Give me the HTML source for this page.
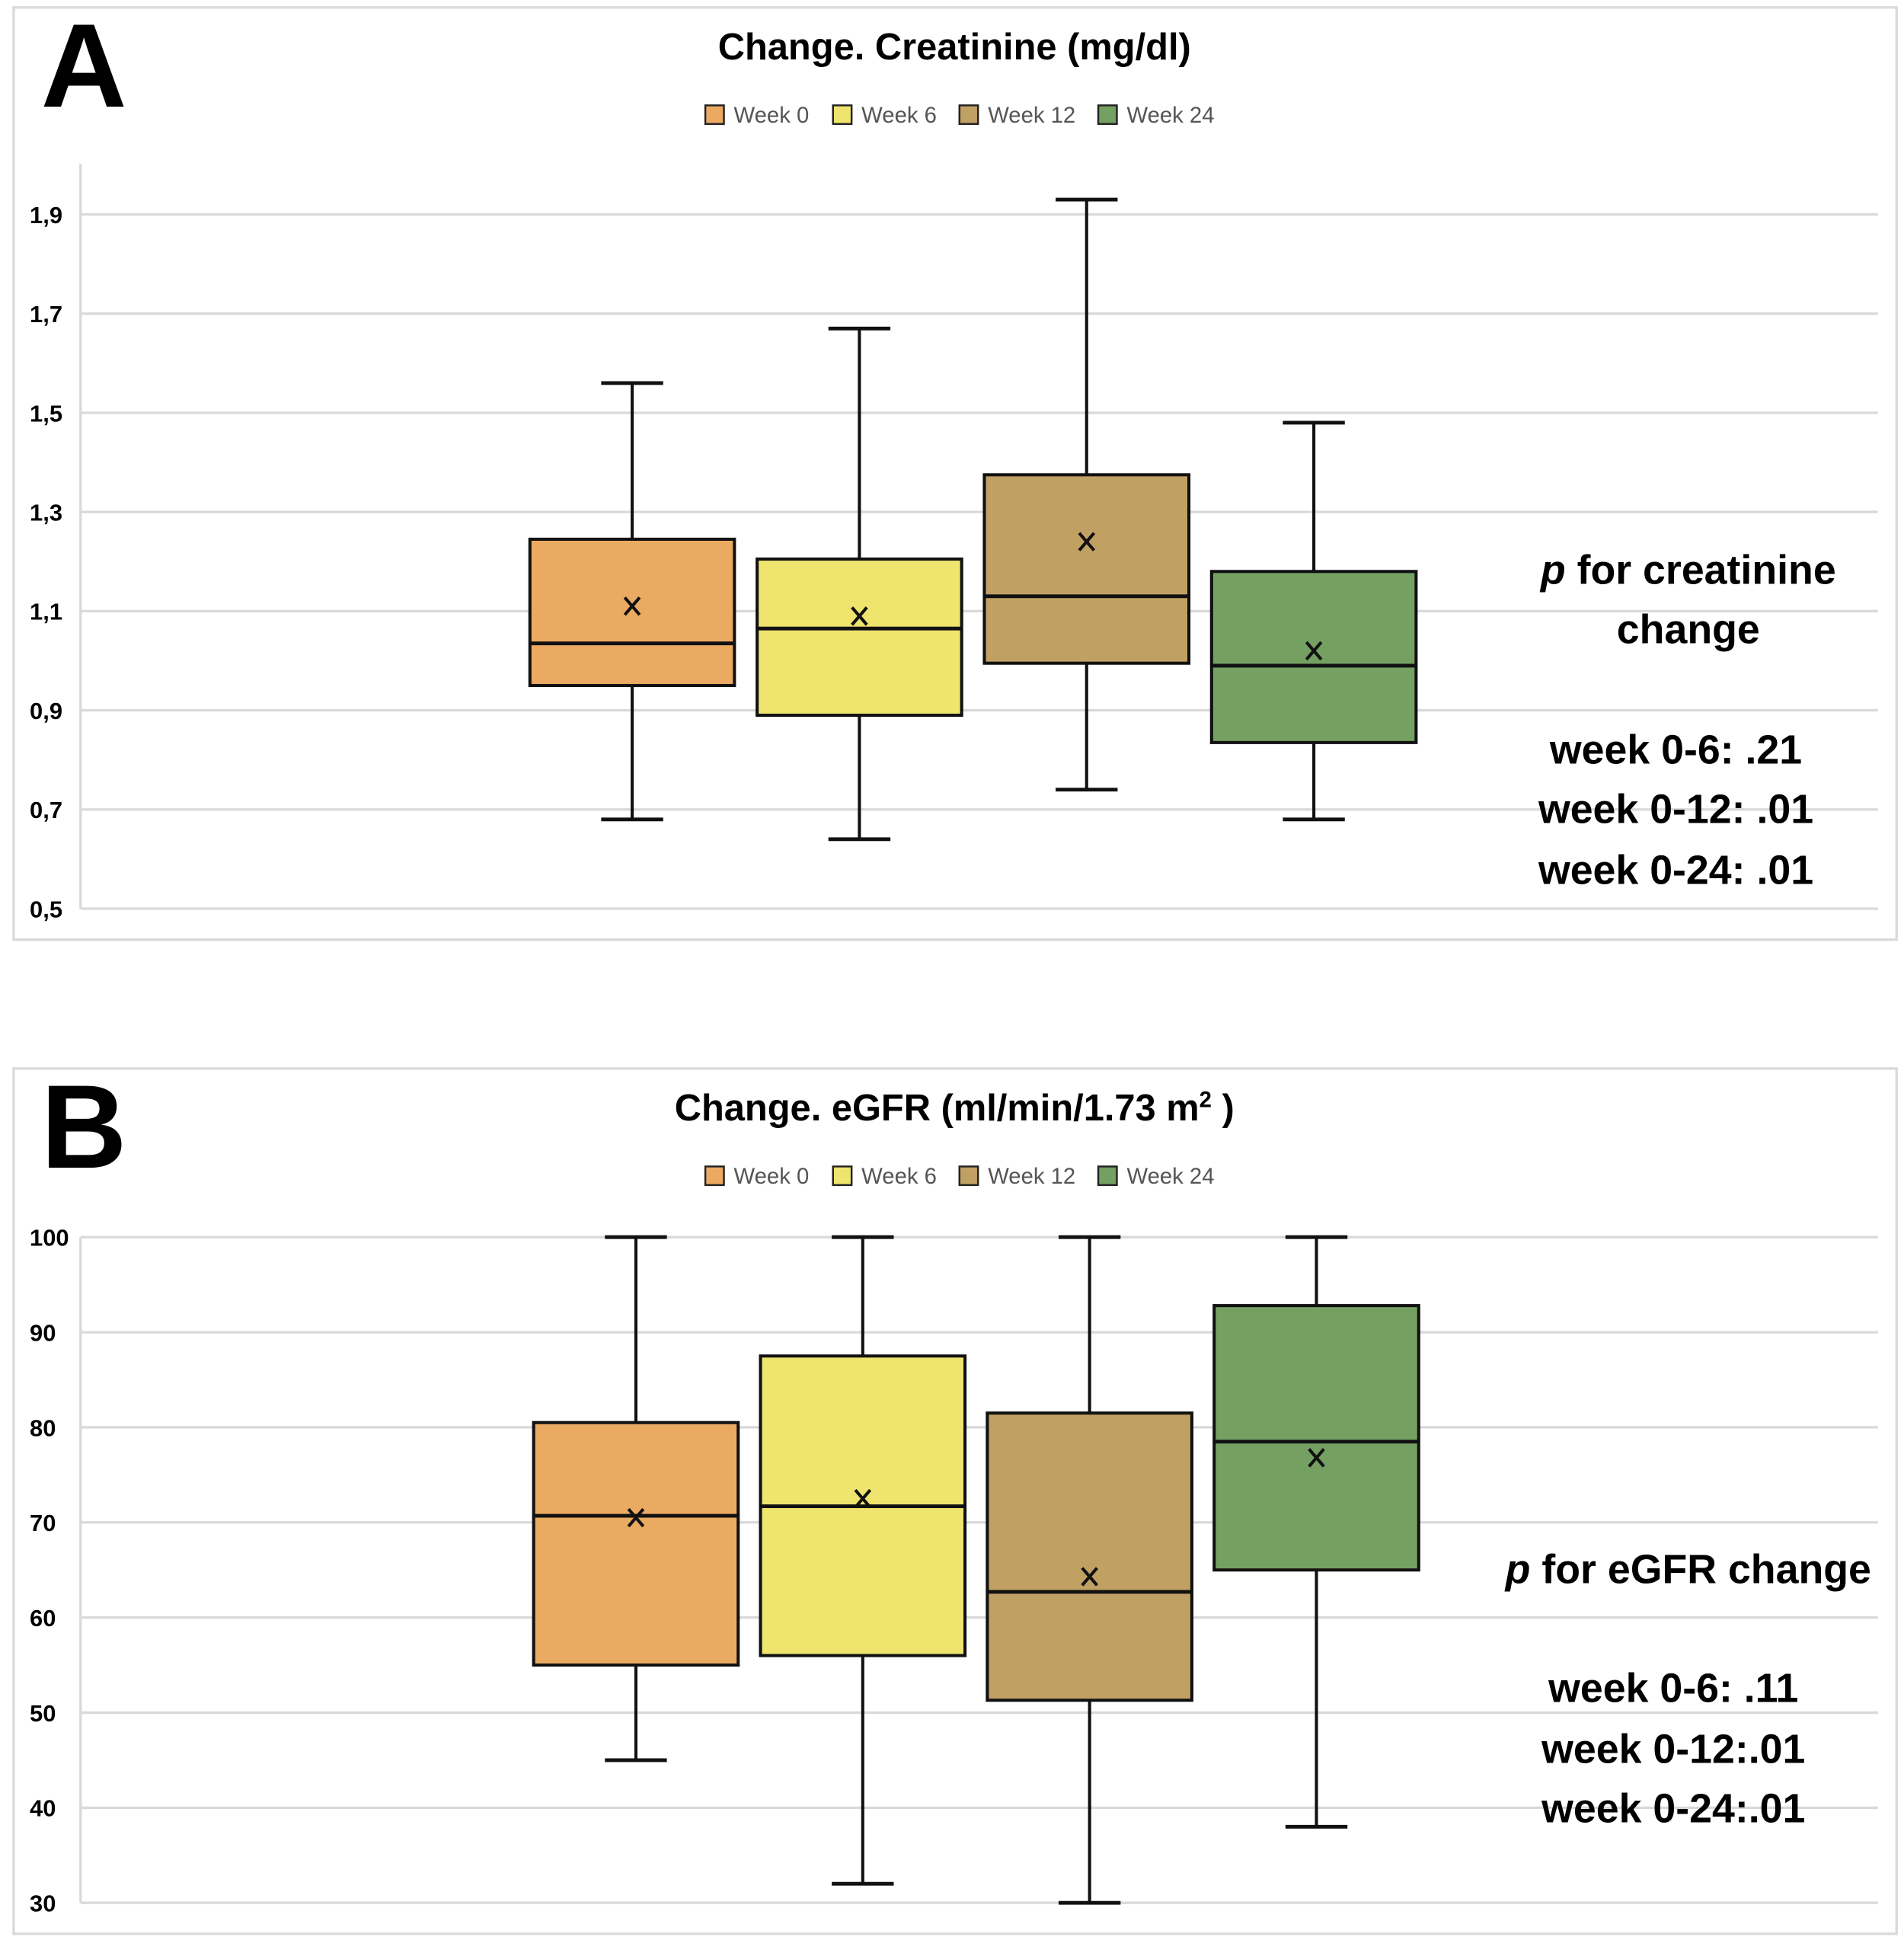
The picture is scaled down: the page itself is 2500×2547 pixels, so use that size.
<!DOCTYPE html>
<html><head><meta charset="utf-8"><style>
html,body{margin:0;padding:0;background:#fff}
svg{display:block}
text{font-family:"Liberation Sans",sans-serif}
</style></head><body>
<svg id="chart" width="2500" height="2547" viewBox="0 0 1536 1565" preserveAspectRatio="none" xmlns="http://www.w3.org/2000/svg">
<g id="pa"></g>
<g id="pb"></g>
</svg>
<script>
const categories = ["Week 0","Week 6","Week 12","Week 24"];
const colors = ["#EBAA62","#EEE46E","#C1A064","#74A062"];
const creatMin = [0.68,0.64,0.74,0.68];
const creatQ1 = [0.95,0.89,0.995,0.835];
const creatMed = [1.035,1.065,1.13,0.99];
const creatQ3 = [1.245,1.205,1.375,1.18];
const creatMax = [1.56,1.67,1.93,1.48];
const creatMean = [1.11,1.09,1.24,1.02];
const creatTicks = [0.5,0.7,0.9,1.1,1.3,1.5,1.7,1.9];
const creatTickLabels = ["0,5","0,7","0,9","1,1","1,3","1,5","1,7","1,9"];
const egfrMin = [45,32,30,38];
const egfrQ1 = [55,56,51.3,65];
const egfrMed = [70.7,71.7,62.7,78.5];
const egfrQ3 = [80.5,87.5,81.5,92.8];
const egfrMax = [100,100,100,100];
const egfrMean = [70.5,72.5,64.3,76.8];
const egfrTicks = [30,40,50,60,70,80,90,100];
const egfrTickLabels = ["30","40","50","60","70","80","90","100"];

const NS="http://www.w3.org/2000/svg";
function mk(parent,tag,attrs,txt){const e=document.createElementNS(NS,tag);for(const k in attrs)e.setAttribute(k,attrs[k]);if(txt!==undefined)e.textContent=txt;parent.appendChild(e);return e;}

function panel(g,cfg){
  const r=mk(g,'rect',{x:11,y:cfg.top,width:1519,height:cfg.h,fill:'#fff',stroke:'#d9d9d9','stroke-width':2});
  
  
  const L=mk(g,'text',{x:33,y:cfg.top+80,'font-size':96,'font-weight':'bold'},cfg.letter);
  
  
  const t=mk(g,'text',{x:770,y:cfg.top+42,'font-size':30,'font-weight':'bold','text-anchor':'middle'});
  t.innerHTML=cfg.title;
  
  
  const lx=[569,672,774,886];
  categories.forEach((c,i)=>{
    const lg=mk(g,'g',{});
    
    
    mk(lg,'rect',{x:lx[i],y:cfg.top+79,width:15,height:15,fill:colors[i],stroke:'#222','stroke-width':1.5});
    mk(lg,'text',{x:lx[i]+23,y:cfg.top+93,'font-size':18,fill:'#555'},c);
  });
  const y=v=>cfg.y0+(v-cfg.t0)*(cfg.y1-cfg.y0)/(cfg.t1-cfg.t0);
  const ax=mk(g,'line',{x1:65,x2:65,y1:cfg.axTop,y2:y(cfg.t0),stroke:'#d9d9d9','stroke-width':2});
  
  
  cfg.ticks.forEach((tv,i)=>{
    const gl=mk(g,'line',{x1:65,x2:1515,y1:y(tv),y2:y(tv),stroke:'#d9d9d9','stroke-width':2});
    
    
    const tl=mk(g,'text',{x:24,y:y(tv)+7,'font-size':19,'font-weight':'bold'},cfg.labels[i]);
    
    
  });
  const cx=i=>cfg.c0+i*cfg.step, bw=165, cw=25;
  categories.forEach((c,i)=>{
    const bg=mk(g,'g',{});
    
    
    const x=cx(i);
    mk(bg,'line',{x1:x,x2:x,y1:y(cfg.max[i]),y2:y(cfg.q3[i]),stroke:'#111','stroke-width':2.5});
    mk(bg,'line',{x1:x,x2:x,y1:y(cfg.q1[i]),y2:y(cfg.min[i]),stroke:'#111','stroke-width':2.5});
    mk(bg,'line',{x1:x-cw,x2:x+cw,y1:y(cfg.max[i]),y2:y(cfg.max[i]),stroke:'#111','stroke-width':3});
    mk(bg,'line',{x1:x-cw,x2:x+cw,y1:y(cfg.min[i]),y2:y(cfg.min[i]),stroke:'#111','stroke-width':3});
    mk(bg,'rect',{x:x-bw/2,y:y(cfg.q3[i]),width:bw,height:y(cfg.q1[i])-y(cfg.q3[i]),fill:colors[i],stroke:'#111','stroke-width':2.5});
    mk(bg,'line',{x1:x-bw/2,x2:x+bw/2,y1:y(cfg.med[i]),y2:y(cfg.med[i]),stroke:'#111','stroke-width':3});
    const my=y(cfg.mean[i]);
    mk(bg,'path',{d:`M${x-6} ${my-7}L${x+6} ${my+7}M${x+6} ${my-7}L${x-6} ${my+7}`,stroke:'#111','stroke-width':2.5,fill:'none'});
  });
  const ng=mk(g,'g',{'font-size':33,'font-weight':'bold','text-anchor':'middle'});
  
  
  cfg.notes.forEach(n=>{const t=mk(ng,'text',{x:n[0],y:n[1]});t.innerHTML=n[2];});
}
panel(document.getElementById('pa'),{top:6,h:752,letter:'A',title:'Change. Creatinine (mg/dl)',
  t0:0.5,t1:1.9,y0:733,y1:173,axTop:132,ticks:creatTicks,labels:creatTickLabels,
  min:creatMin,q1:creatQ1,med:creatMed,q3:creatQ3,max:creatMax,mean:creatMean,c0:510,step:183.3,
  notes:[[1362,471,'<tspan font-style="italic">p</tspan> for creatinine'],[1362,519,'change'],[1352,616,'week 0-6: .21'],[1352,664,'week 0-12: .01'],[1352,713,'week 0-24: .01']]});
panel(document.getElementById('pb'),{top:862,h:698,letter:'B',title:'Change. eGFR (ml/min/1.73 m<tspan font-size="18" dy="-11">2</tspan><tspan dy="11"> )</tspan>',
  t0:30,t1:100,y0:1535,y1:998,axTop:998,ticks:egfrTicks,labels:egfrTickLabels,
  min:egfrMin,q1:egfrQ1,med:egfrMed,q3:egfrQ3,max:egfrMax,mean:egfrMean,c0:513,step:183,
  notes:[[1362,1277,'<tspan font-style="italic">p</tspan> for eGFR change'],[1350,1373,'week 0-6: .11'],[1350,1422,'week 0-12:.01'],[1350,1470,'week 0-24:.01']]});
</script>
</body></html>
